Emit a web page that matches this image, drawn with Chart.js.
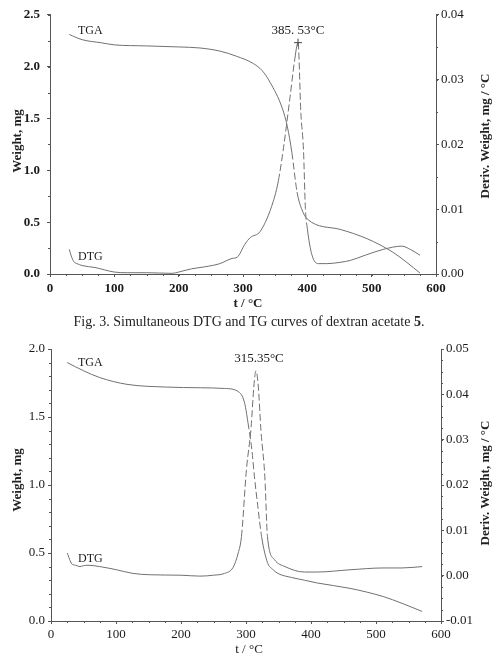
<!DOCTYPE html>
<html lang="en">
<head>
  <meta charset="UTF-8">
  <title>DTG and TG curves</title>
  <script src="https://cdn.jsdelivr.net/npm/chart.js"></script>
  <style>
    body { margin:0; background:#fff; font-family:'Liberation Serif', 'Times New Roman', serif; color:#222; }
    #page { position:relative; width:497px; height:658px; overflow:hidden; }
    .box { position:absolute; left:0; width:497px; }
    .lbl { position:absolute; white-space:nowrap; transform:translate(-50%,-50%); font-size:13px; }
    .rot { transform:translate(-50%,-50%) rotate(-90deg); }
  </style>
</head>
<body>
<div id="page">
  <div class="box" style="top:0; height:300px;"><canvas id="chartTop"></canvas></div>
  <div class="box" style="top:335px; height:323px;"><canvas id="chartBottom"></canvas></div>

  <div class="lbl rot" style="left:17px; top:141px; font-weight:bold;">Weight, mg</div>
  <div class="lbl rot" style="left:485px; top:136px; font-weight:bold;">Deriv. Weight, mg / °C</div>
  <div class="lbl" style="left:248px; top:303px; font-weight:bold;">t / °C</div>
  <div class="lbl" style="left:249px; top:322px; font-size:14px;">Fig. 3. Simultaneous DTG and TG curves of dextran acetate <b>5</b>.</div>

  <div class="lbl rot" style="left:17px; top:480px; font-weight:bold;">Weight, mg</div>
  <div class="lbl rot" style="left:485px; top:483px; font-weight:bold;">Deriv. Weight, mg / °C</div>
  <div class="lbl" style="left:249px; top:649px;">t / °C</div>
</div>

<script>
  // upper chart (dextran acetate 5): weight (mg) and derivative (mg/°C) vs temperature
  const tgaTopT = [30, 50, 80, 100, 150, 200, 233, 264, 290, 316, 330, 342, 361, 369, 376, 384, 391, 400, 451, 493, 533, 555, 575];
  const tgaTopW = [2.31, 2.26, 2.23, 2.21, 2.20, 2.19, 2.18, 2.15, 2.10, 2.03, 1.96, 1.85, 1.60, 1.42, 1.17, 0.79, 0.63, 0.53, 0.43, 0.34, 0.21, 0.11, 0.01];
  const dtgTopT = [30, 33, 37, 42, 50, 70, 100, 120, 150, 190, 200, 220, 240, 264, 283, 291, 303, 311, 327, 347, 355, 363, 373, 380, 385.53, 390, 394, 397, 400, 407, 417, 430, 451, 467, 490, 518, 547, 560, 575];
  const dtgTopD = [0.0038, 0.0028, 0.0019, 0.0016, 0.0013, 0.0010, 0.0003, 0.0002, 0.0002, 0.0001, 0.0003, 0.0008, 0.0011, 0.0016, 0.0024, 0.0026, 0.0046, 0.0056, 0.0066, 0.0112, 0.0144, 0.0195, 0.0272, 0.0328, 0.0357, 0.0248, 0.0192, 0.0101, 0.0070, 0.0030, 0.0016, 0.0016, 0.0018, 0.0021, 0.0029, 0.0038, 0.0043, 0.0038, 0.0029];
  const peakTop = 385.53;

  // lower chart
  const tgaBotT = [25, 50, 75, 117, 178, 230, 267, 290, 298, 303, 309, 313, 318, 324, 333, 341, 349, 370, 390, 409, 460, 511, 540, 571];
  const tgaBotW = [1.90, 1.84, 1.79, 1.74, 1.72, 1.715, 1.71, 1.68, 1.60, 1.46, 1.26, 1.06, 0.85, 0.62, 0.43, 0.38, 0.35, 0.32, 0.30, 0.28, 0.24, 0.18, 0.13, 0.07];
  const dtgBotT = [25, 32, 38, 44.5, 50, 57, 75, 101, 126, 152, 200, 229, 250, 267, 280, 288, 293, 300.6, 308, 312, 315.35, 319, 323, 329, 333, 344, 360, 390, 409, 460, 511, 540, 571];
  const dtgBotD = [0.0050, 0.0026, 0.0023, 0.0020, 0.0022, 0.0023, 0.0020, 0.0013, 0.0005, 0.0002, 0.0001, -0.0001, 0.0001, 0.0005, 0.0018, 0.0050, 0.0086, 0.0233, 0.0330, 0.0416, 0.0452, 0.0416, 0.0320, 0.0218, 0.0086, 0.0035, 0.0020, 0.0008, 0.0008, 0.0013, 0.0017, 0.0017, 0.0020];
  const peakBot = 315.35;

  const xTicks = [0, 100, 200, 300, 400, 500, 600];

  Chart.defaults.font.family = "'Liberation Serif', 'Times New Roman', serif";
  Chart.defaults.font.size = 13;
  Chart.defaults.color = '#1a1a1a';

  const pts = (xs, ys) => xs.map((x, i) => ({ x: x, y: ys[i] }));

  // small unlabelled ticks between the numbered ones
  const minorTicks = {
    id: 'minorTicks',
    afterDraw(chart, args, opts) {
      const ctx = chart.ctx;
      ctx.save();
      ctx.strokeStyle = '#555';
      ctx.lineWidth = 1;
      for (const id in opts.steps) {
        const s = chart.scales[id];
        const step = opts.steps[id];
        const n = Math.round((s.max - s.min) / step);
        for (let i = 0; i <= n; i++) {
          const p = Math.round(s.getPixelForValue(s.min + i * step)) + 0.5;
          ctx.beginPath();
          if (id === 'x') { ctx.moveTo(p, s.top); ctx.lineTo(p, s.top + 2); }
          else if (s.position === 'left') { ctx.moveTo(s.right, p); ctx.lineTo(s.right - 2, p); }
          else { ctx.moveTo(s.left, p); ctx.lineTo(s.left + 2, p); }
          ctx.stroke();
        }
      }
      ctx.restore();
    }
  };

  // curve names and peak temperatures
  const textLabels = {
    id: 'textLabels',
    afterDatasetsDraw(chart, args, opts) {
      const ctx = chart.ctx;
      ctx.save();
      ctx.fillStyle = '#1a1a1a';
      ctx.textBaseline = 'middle';
      opts.items.forEach(l => {
        ctx.font = l.font;
        ctx.textAlign = l.align;
        const x = chart.scales.x.getPixelForValue(l.x) + (l.dx || 0);
        const y = chart.scales[l.axis].getPixelForValue(l.y) + (l.dy || 0);
        ctx.fillText(l.text, x, y);
      });
      ctx.restore();
    }
  };

  function axis(pos, min, max, step, digits, size, pad, bold) {
    return {
      type: 'linear', position: pos, min: min, max: max,
      afterFit: s => { if (pos === 'bottom') s.height = size; else s.width = size; },
      afterBuildTicks: pos === 'bottom' ? (s => { s.ticks = xTicks.map(v => ({ value: v })); }) : undefined,
      ticks: {
        stepSize: step, autoSkip: false, maxRotation: 0, padding: pad,
        font: { weight: bold ? 'bold' : 'normal' },
        callback: v => Math.abs(v) < 1e-9 ? (0).toFixed(digits) : Number(v).toFixed(digits)
      },
      grid: { drawOnChartArea: false, drawTicks: true, tickLength: 3, color: '#555' },
      border: { display: true, color: '#555', width: 1 }
    };
  }

  // near-vertical stretches of the traces come out broken in the original print
  const steep = c => Math.abs(c.p1.y - c.p0.y) > 5 * Math.abs(c.p1.x - c.p0.x) + 4;

  function lineSet(data, axisId, extra) {
    return Object.assign({
      data: data, yAxisID: axisId,
      borderColor: '#707070', borderWidth: 1,
      pointRadius: 0, fill: false,
      cubicInterpolationMode: 'monotone',
      segment: { borderDash: c => steep(c) ? [7, 3] : undefined }
    }, extra || {});
  }

  new Chart(document.getElementById('chartTop'), {
    type: 'line',
    data: {
      datasets: [
        lineSet(pts(tgaTopT, tgaTopW), 'y'),
        lineSet(pts(dtgTopT, dtgTopD), 'y1', {
          pointStyle: 'cross',
          pointRadius: c => (c.raw && c.raw.x === peakTop) ? 4 : 0,
          pointBorderColor: '#444', pointBorderWidth: 1
        })
      ]
    },
    options: {
      responsive: true, maintainAspectRatio: false, animation: false,
      layout: { padding: { top: 8, left: 0, right: 0, bottom: 0 } },
      scales: {
        x: axis('bottom', 0, 600, 100, 0, 26, 4, true),
        y: axis('left', 0, 2.5, 0.5, 1, 50, 7, true),
        y1: axis('right', 0, 0.04, 0.01, 2, 61, 2, false)
      },
      plugins: {
        legend: { display: false },
        tooltip: { enabled: false },
        minorTicks: { steps: { x: 25, y: 0.25, y1: 0.005 } },
        textLabels: { items: [
          { text: 'TGA', x: 43.5, y: 2.35, axis: 'y', align: 'left', font: "12px 'Liberation Serif'" },
          { text: 'DTG', x: 43.5, y: 0.17, axis: 'y', align: 'left', font: "12px 'Liberation Serif'" },
          { text: '385. 53°C', x: peakTop, y: 0.0357, axis: 'y1', align: 'center', dy: -12, font: "13px 'Liberation Serif'" }
        ] }
      }
    },
    plugins: [minorTicks, textLabels]
  });

  new Chart(document.getElementById('chartBottom'), {
    type: 'line',
    data: {
      datasets: [
        lineSet(pts(tgaBotT, tgaBotW), 'y'),
        lineSet(pts(dtgBotT, dtgBotD), 'y1')
      ]
    },
    options: {
      responsive: true, maintainAspectRatio: false, animation: false,
      layout: { padding: { top: 14, left: 0, right: 0, bottom: 0 } },
      scales: {
        x: axis('bottom', 0, 600, 100, 0, 37, 3, false),
        y: axis('left', 0, 2.0, 0.5, 1, 51, 3, false),
        y1: axis('right', -0.01, 0.05, 0.01, 2, 56, 2, false)
      },
      plugins: {
        legend: { display: false },
        tooltip: { enabled: false },
        minorTicks: { steps: { x: 25, y: 0.1, y1: 0.0025 } },
        textLabels: { items: [
          { text: 'TGA', x: 41.5, y: 1.90, axis: 'y', align: 'left', font: "12px 'Liberation Serif'" },
          { text: 'DTG', x: 41.5, y: 0.46, axis: 'y', align: 'left', font: "12px 'Liberation Serif'" },
          { text: '315.35°C', x: peakBot, y: 0.0452, axis: 'y1', align: 'center', dx: 3, dy: -12, font: "13px 'Liberation Serif'" }
        ] }
      }
    },
    plugins: [minorTicks, textLabels]
  });
</script>
</body>
</html>
